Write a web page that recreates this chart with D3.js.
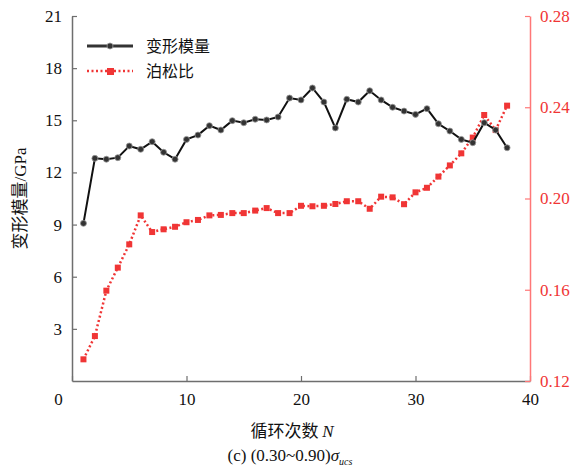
<!DOCTYPE html>
<html><head><meta charset="utf-8">
<script src="https://cdn.jsdelivr.net/npm/d3@7"></script>
<style>body{margin:0;background:#fff}svg{display:block}</style>
</head><body>
<script>
const cycles = d3.range(1, 39);
const modulus = [9.07,12.81,12.76,12.85,13.52,13.33,13.77,13.16,12.76,13.9,14.15,14.69,14.44,14.98,14.86,15.06,15.02,15.19,16.28,16.17,16.86,16.05,14.56,16.21,16.05,16.7,16.17,15.75,15.53,15.34,15.67,14.8,14.38,13.9,13.71,14.86,14.44,13.42];
const poisson = [0.1295,0.1397,0.1596,0.1697,0.1799,0.1926,0.1853,0.1865,0.1876,0.1896,0.1906,0.1926,0.1928,0.1936,0.1936,0.1947,0.1958,0.1936,0.1936,0.1968,0.1966,0.1968,0.1976,0.1988,0.1988,0.1955,0.2008,0.2005,0.1975,0.2027,0.2047,0.2096,0.2145,0.2198,0.2267,0.2366,0.2300,0.2407];
const xTicks = [0,10,20,30,40];
const yLeftTicks = [3,6,9,12,15,18,21];
const yRightTicks = [0.12,0.16,0.20,0.24,0.28];
const seriesNames = ["变形模量","泊松比"];

const W=571,H=469;
const m={l:72,r:41,t:16,b:88};
const svg=d3.select("body").append("svg").attr("width",W).attr("height",H);
const x=d3.scaleLinear().domain([0,40]).range([m.l,W-m.r]);
const yL=d3.scaleLinear().domain([0,21]).range([H-m.b,m.t]);
const yR=d3.scaleLinear().domain([0.12,0.28]).range([H-m.b,m.t]);
const serif="'Liberation Serif','Times New Roman',serif";
const cjk="'Noto Sans CJK SC','Noto Sans CJK JP',sans-serif";
const red="#f03535";

// bottom axis
const gx=svg.append("g").attr("transform",`translate(0,${H-m.b})`)
  .call(d3.axisBottom(x).tickValues(xTicks).tickSizeInner(-5).tickSizeOuter(0).tickPadding(12));
gx.select(".domain").attr("stroke","#6e6e6e").attr("stroke-width",1.5);
gx.selectAll(".tick line").attr("stroke","#6e6e6e").attr("stroke-width",1.2);
gx.selectAll(".tick text").attr("font-family",serif).attr("font-size",17).attr("fill","#111");
gx.selectAll(".tick").filter(d=>d===0).select("text").attr("dx",-14);

// left axis
const gl=svg.append("g").attr("transform",`translate(${m.l},0)`)
  .call(d3.axisLeft(yL).tickValues(yLeftTicks).tickSizeInner(-5).tickSizeOuter(0).tickPadding(10));
gl.select(".domain").attr("stroke","#6e6e6e").attr("stroke-width",1.5);
gl.selectAll(".tick line").attr("stroke","#6e6e6e").attr("stroke-width",1.2);
gl.selectAll(".tick text").attr("font-family",serif).attr("font-size",17).attr("fill","#111");

// right axis
const gr=svg.append("g").attr("transform",`translate(${W-m.r},0)`)
  .call(d3.axisRight(yR).tickValues(yRightTicks).tickFormat(d3.format(".2f")).tickSizeInner(-5).tickSizeOuter(0).tickPadding(10));
gr.select(".domain").attr("stroke","#f77").attr("stroke-width",1.5);
gr.selectAll(".tick line").attr("stroke","#f77").attr("stroke-width",1.2);
gr.selectAll(".tick text").attr("font-family",serif).attr("font-size",17).attr("fill",red);

// poisson series
const lineR=d3.line().x((d,i)=>x(cycles[i])).y(d=>yR(d));
svg.append("path").datum(poisson).attr("d",lineR).attr("fill","none")
  .attr("stroke",red).attr("stroke-width",2.5).attr("stroke-dasharray","2,2.5");
svg.append("g").selectAll("rect").data(poisson).join("rect")
  .attr("x",(d,i)=>x(cycles[i])-3).attr("y",d=>yR(d)-3).attr("width",6).attr("height",6)
  .attr("fill",red);

// modulus series
const lineL=d3.line().x((d,i)=>x(cycles[i])).y(d=>yL(d));
svg.append("path").datum(modulus).attr("d",lineL).attr("fill","none")
  .attr("stroke","#111").attr("stroke-width",2);
svg.append("g").selectAll("circle").data(modulus).join("circle")
  .attr("cx",(d,i)=>x(cycles[i])).attr("cy",d=>yL(d)).attr("r",3)
  .attr("fill","#333").attr("stroke","#999").attr("stroke-width",0.8);

// legend
const lg=svg.append("g");
lg.append("line").attr("x1",87).attr("x2",133).attr("y1",46).attr("y2",46).attr("stroke","#333").attr("stroke-width",3);
lg.append("circle").attr("cx",110).attr("cy",46).attr("r",3).attr("fill","#333").attr("stroke","#999").attr("stroke-width",0.8);
lg.append("text").attr("x",146).attr("y",52).text(seriesNames[0]).attr("font-family",cjk).attr("font-size",16).attr("fill","#111");
lg.append("line").attr("x1",87).attr("x2",133).attr("y1",71).attr("y2",71).attr("stroke",red).attr("stroke-width",2.5).attr("stroke-dasharray","2,2.5");
lg.append("rect").attr("x",107).attr("y",68).attr("width",7).attr("height",7).attr("fill",red);
lg.append("text").attr("x",146).attr("y",77).text(seriesNames[1]).attr("font-family",cjk).attr("font-size",16).attr("fill","#111");

// axis titles
const yt=svg.append("text").attr("transform",`translate(26,${(m.t+H-m.b)/2}) rotate(-90)`)
  .attr("text-anchor","middle").attr("font-size",17).attr("fill","#111");
yt.append("tspan").attr("font-family",cjk).text("变形模量");
yt.append("tspan").attr("font-family",serif).text("/GPa");

const xt=svg.append("text").attr("x",292).attr("y",437).attr("text-anchor","middle").attr("font-size",17).attr("fill","#111");
xt.append("tspan").attr("font-family",cjk).text("循环次数 ");
xt.append("tspan").attr("font-family",serif).attr("font-style","italic").text("N");

const cap=svg.append("text").attr("x",290).attr("y",461).attr("text-anchor","middle").attr("font-family",serif).attr("font-size",17).attr("fill","#111");
cap.append("tspan").text("(c) (0.30~0.90)");
cap.append("tspan").attr("font-style","italic").text("σ");
cap.append("tspan").attr("font-style","italic").attr("font-size",10).attr("dy",4).text("ucs");
</script>
</body></html>
